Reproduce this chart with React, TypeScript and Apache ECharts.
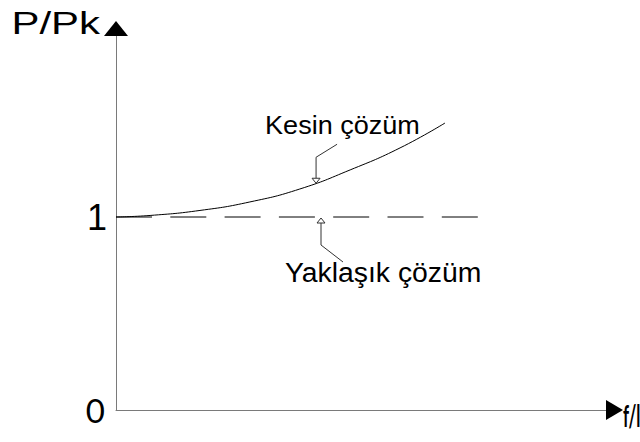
import React, { useEffect, useRef } from "react";
import * as echarts from "echarts";

// f/l values along the exact-solution curve and the matching P/Pk ratios
const exactX = [0, 0.069, 0.17, 0.271, 0.372, 0.474, 0.575, 0.666];
const exactY = [1, 1.008, 1.034, 1.078, 1.145, 1.244, 1.358, 1.487];
// Approximate solution: constant P/Pk = 1
const approxX = [0, 0.733];
const approxY = [1, 1];
const yTicks = [0, 1];
const yName = "P/Pk";
const xName = "f/l";
const labelExact = "Kesin çözüm";
const labelApprox = "Yaklaşık çözüm";

const AXIS_GREY = "#7a7a7a";
const ARIAL = "'Liberation Sans', Arial, sans-serif";
const ROUND = "Lato, 'Open Sans', sans-serif";

export default function App() {
  const ref = useRef<HTMLDivElement>(null);

  useEffect(() => {
    if (!ref.current) return;
    const chart = echarts.init(ref.current, undefined, { renderer: "svg" });

    chart.setOption({
      animation: false,
      backgroundColor: "#ffffff",
      grid: { left: 116, right: 30, top: 24, bottom: 32, outerBoundsMode: "none", containLabel: false },
      xAxis: {
        type: "value",
        min: 0,
        max: 1,
        axisLine: { lineStyle: { color: AXIS_GREY, width: 1 } },
        axisTick: { show: false },
        axisLabel: { show: false },
        splitLine: { show: false },
      },
      yAxis: {
        type: "value",
        min: 0,
        max: 2,
        interval: 1,
        axisLine: { show: true, lineStyle: { color: AXIS_GREY, width: 1 } },
        axisTick: { show: false },
        splitLine: { show: false },
        axisLabel: {
          customValues: yTicks,
          margin: 9,
          formatter: (v: number) => (v === 0 ? `{zero|${v}}` : `{one|${v}}`),
          rich: {
            zero: { fontFamily: ROUND, fontSize: 33, color: "#000", padding: [0, 2, 0, 0] },
            one: { fontFamily: ARIAL, fontSize: 36, color: "#000" },
          },
        },
      },
      series: [
        {
          type: "line",
          name: labelExact,
          data: exactX.map((x, i) => [x, exactY[i]]),
          smooth: true,
          symbol: "none",
          lineStyle: { color: "#000", width: 1 },
        },
        {
          type: "line",
          name: labelApprox,
          data: approxX.map((x, i) => [x, approxY[i]]),
          symbol: "none",
          lineStyle: { color: "#000", width: 1, type: [36, 18.3] },
        },
      ],
    });

    // Axis titles, arrowheads and callouts, placed from the axis scales
    const px = (x: number, y: number) => chart.convertToPixel({ gridIndex: 0 }, [x, y]) as number[];
    const yTop = px(0, 2);
    const xEnd = px(1, 0);
    const kTip = px(0.405, 1.18);
    const aTip = px(0.415, 1);

    const leaderStyle = { stroke: "#333", lineWidth: 1, fill: "none" };
    const openHead = { stroke: "#333", lineWidth: 1, fill: "#fff" };

    chart.setOption({
      graphic: [
        {
          type: "text",
          x: yTop[0] - 16,
          y: yTop[1] - 1,
          scaleX: 1.31,
          style: {
            text: yName,
            fontFamily: ARIAL,
            fontSize: 32,
            fill: "#000",
            textAlign: "right",
            textVerticalAlign: "middle",
          },
          z: 10,
        },
        {
          type: "text",
          x: xEnd[0] + 13,
          y: xEnd[1] + 5,
          scaleX: 0.56,
          style: {
            text: xName,
            fontFamily: ROUND,
            fontSize: 30,
            fontWeight: "bold",
            fill: "#000",
            textAlign: "left",
            textVerticalAlign: "middle",
          },
          z: 10,
        },
        // y-axis arrow
        {
          type: "polygon",
          shape: {
            points: [
              [yTop[0], yTop[1] - 3],
              [yTop[0] - 12, yTop[1] + 12],
              [yTop[0] + 12, yTop[1] + 12],
            ],
          },
          style: { fill: "#000" },
          z: 10,
        },
        // x-axis arrow
        {
          type: "polygon",
          shape: {
            points: [
              [xEnd[0] - 4, xEnd[1] - 10],
              [xEnd[0] + 13, xEnd[1]],
              [xEnd[0] - 4, xEnd[1] + 10],
            ],
          },
          style: { fill: "#000" },
          z: 10,
        },
        // exact-solution callout
        {
          type: "polyline",
          shape: {
            points: [
              [kTip[0] + 21, kTip[1] - 38],
              [kTip[0], kTip[1] - 25],
              [kTip[0], kTip[1] - 4],
            ],
          },
          style: leaderStyle,
          z: 10,
        },
        {
          type: "polygon",
          shape: {
            points: [
              [kTip[0] - 4, kTip[1] - 4],
              [kTip[0] + 4, kTip[1] - 4],
              [kTip[0], kTip[1] + 1],
            ],
          },
          style: openHead,
          z: 11,
        },
        {
          type: "text",
          x: kTip[0] - 51,
          y: kTip[1] - 57,
          scaleX: 1.04,
          style: {
            text: labelExact,
            fontFamily: ARIAL,
            fontSize: 26,
            fill: "#000",
            textVerticalAlign: "middle",
          },
          z: 10,
        },
        // approximate-solution callout
        {
          type: "polyline",
          shape: {
            points: [
              [aTip[0], aTip[1] + 6],
              [aTip[0], aTip[1] + 28],
              [aTip[0] + 22, aTip[1] + 45],
            ],
          },
          style: leaderStyle,
          z: 10,
        },
        {
          type: "polygon",
          shape: {
            points: [
              [aTip[0], aTip[1] + 1],
              [aTip[0] - 4, aTip[1] + 6],
              [aTip[0] + 4, aTip[1] + 6],
            ],
          },
          style: openHead,
          z: 11,
        },
        {
          type: "text",
          x: aTip[0] - 36,
          y: aTip[1] + 56,
          scaleX: 1.05,
          style: {
            text: labelApprox,
            fontFamily: ARIAL,
            fontSize: 27,
            fill: "#000",
            textVerticalAlign: "middle",
          },
          z: 10,
        },
      ],
    });

    return () => chart.dispose();
  }, []);

  return <div ref={ref} style={{ width: 640, height: 442, position: "absolute", left: 0, top: 0 }} />;
}
